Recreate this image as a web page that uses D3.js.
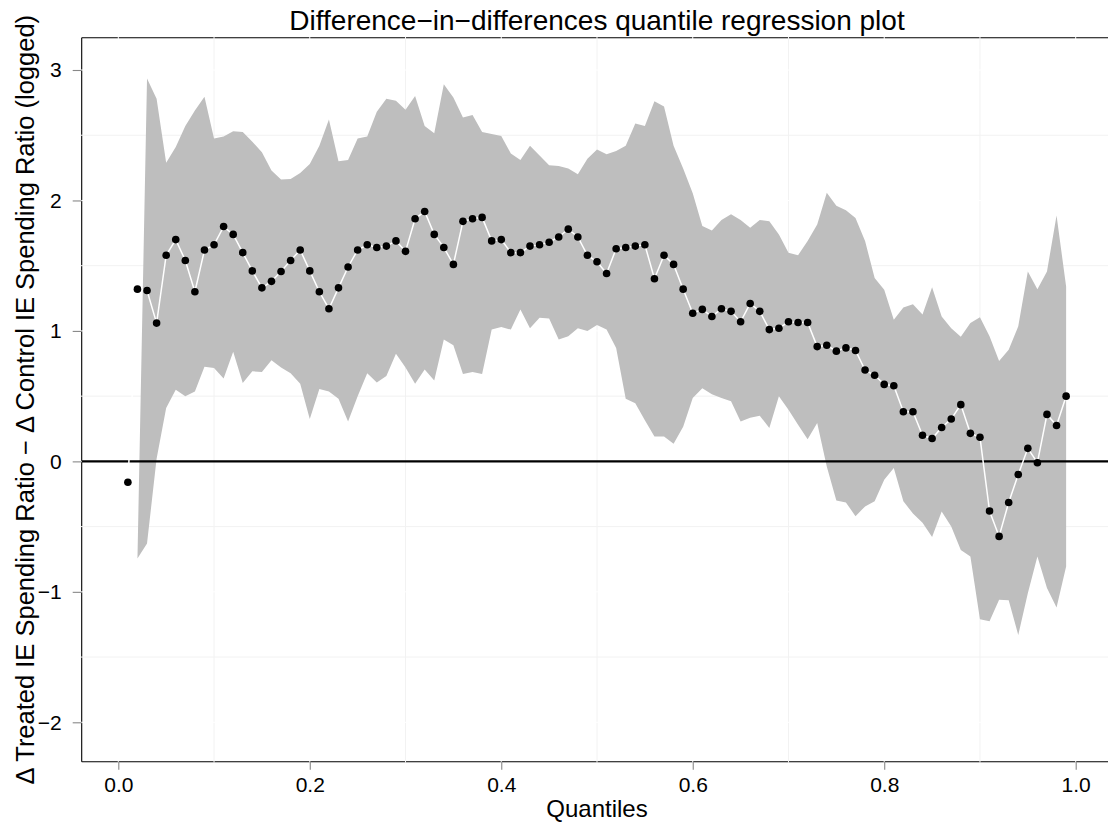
<!DOCTYPE html>
<html>
<head>
<meta charset="utf-8">
<script src="https://cdn.jsdelivr.net/npm/d3@7"></script>
<style>
  html, body { margin: 0; padding: 0; background: #fff; }
  svg { display: block; font-family: "Liberation Sans", Arial, Helvetica, sans-serif; }
</style>
</head>
<body>
<svg id="chart" width="1108" height="825"></svg>
<script>
// ---------------- data ----------------
const quantiles = [0.01,0.02,0.03,0.04,0.05,0.06,0.07,0.08,0.09,0.10,
  0.11,0.12,0.13,0.14,0.15,0.16,0.17,0.18,0.19,0.20,
  0.21,0.22,0.23,0.24,0.25,0.26,0.27,0.28,0.29,0.30,
  0.31,0.32,0.33,0.34,0.35,0.36,0.37,0.38,0.39,0.40,
  0.41,0.42,0.43,0.44,0.45,0.46,0.47,0.48,0.49,0.50,
  0.51,0.52,0.53,0.54,0.55,0.56,0.57,0.58,0.59,0.60,
  0.61,0.62,0.63,0.64,0.65,0.66,0.67,0.68,0.69,0.70,
  0.71,0.72,0.73,0.74,0.75,0.76,0.77,0.78,0.79,0.80,
  0.81,0.82,0.83,0.84,0.85,0.86,0.87,0.88,0.89,0.90,
  0.91,0.92,0.93,0.94,0.95,0.96,0.97,0.98,0.99];

const estimate = [-0.16,1.32,1.31,1.06,1.58,1.70,1.54,1.30,1.62,1.66,
  1.80,1.74,1.60,1.46,1.33,1.38,1.455,1.54,1.62,1.46,
  1.30,1.17,1.33,1.49,1.62,1.66,1.64,1.65,1.69,1.61,
  1.86,1.915,1.74,1.64,1.51,1.84,1.86,1.87,1.69,1.70,
  1.60,1.60,1.65,1.66,1.68,1.72,1.78,1.72,1.58,1.53,
  1.44,1.63,1.64,1.65,1.66,1.40,1.58,1.51,1.32,1.135,
  1.165,1.11,1.17,1.15,1.07,1.21,1.15,1.01,1.02,1.07,
  1.065,1.065,0.88,0.89,0.845,0.87,0.85,0.70,0.66,0.59,
  0.58,0.38,0.38,0.20,0.175,0.26,0.325,0.435,0.215,0.185,
  -0.38,-0.575,-0.315,-0.10,0.10,-0.01,0.36,0.275,0.50];

// confidence band, available from q = 0.02 onward (null at 0.01)
const upper = [null,-0.75,2.935,2.78,2.29,2.41,2.57,2.69,2.795,2.475,
  2.49,2.53,2.525,2.45,2.37,2.23,2.16,2.165,2.21,2.28,
  2.42,2.62,2.30,2.31,2.475,2.49,2.68,2.78,2.765,2.695,
  2.80,2.57,2.515,2.89,2.79,2.635,2.655,2.525,2.51,2.495,
  2.36,2.31,2.42,2.345,2.27,2.265,2.245,2.20,2.32,2.39,
  2.355,2.38,2.42,2.59,2.57,2.76,2.72,2.42,2.245,2.055,
  1.805,1.77,1.85,1.895,1.85,1.79,1.85,1.84,1.74,1.60,
  1.58,1.69,1.815,2.06,1.96,1.925,1.865,1.69,1.405,1.315,
  1.085,1.18,1.205,1.125,1.335,1.11,1.02,0.955,1.06,1.105,
  0.96,0.77,0.855,1.035,1.455,1.32,1.455,1.885,1.34];

const lower = [null,-0.745,-0.63,0.02,0.41,0.55,0.50,0.535,0.725,0.715,
  0.635,0.84,0.60,0.69,0.685,0.775,0.72,0.675,0.595,0.325,
  0.555,0.535,0.48,0.305,0.50,0.675,0.605,0.655,0.825,0.72,
  0.595,0.705,0.62,0.935,0.89,0.67,0.685,0.67,1.01,1.03,
  1.01,1.165,1.02,1.10,1.095,0.935,0.96,1.02,1.00,1.045,
  1.01,0.87,0.48,0.445,0.315,0.19,0.19,0.135,0.265,0.485,
  0.56,0.515,0.485,0.46,0.305,0.335,0.35,0.255,0.50,0.395,
  0.28,0.17,0.295,-0.04,-0.30,-0.315,-0.42,-0.345,-0.305,-0.14,
  -0.05,-0.305,-0.40,-0.47,-0.58,-0.385,-0.50,-0.68,-0.73,-1.21,
  -1.225,-1.06,-1.065,-1.33,-1.01,-0.73,-0.97,-1.12,-0.805];

const xTicks = [0.0, 0.2, 0.4, 0.6, 0.8, 1.0];
const xMinor = [0.1, 0.3, 0.5, 0.7, 0.9];
const yTicks = [-2, -1, 0, 1, 2, 3];
const yMinor = [-1.5, -0.5, 0.5, 1.5, 2.5];

const titleText = "Difference\u2212in\u2212differences quantile regression plot";
const xTitle = "Quantiles";
const yTitle = "\u0394 Treated IE Spending Ratio \u2212 \u0394 Control IE Spending Ratio (logged)";

// ---------------- layout ----------------
const W = 1108, H = 825;
const panel = { left: 81.7, top: 37.7, bottom: 761.7, right: 1113 };

const x = d3.scaleLinear().domain([0, 1]).range([118.3, 1075.7]);
const y = d3.scaleLinear().domain([-2, 3]).range([722.3, 70]);

const svg = d3.select("#chart");
svg.append("rect").attr("width", W).attr("height", H).attr("fill", "#fff");

svg.append("defs").append("clipPath").attr("id", "clip")
  .append("rect")
  .attr("x", panel.left).attr("y", panel.top)
  .attr("width", panel.right - panel.left).attr("height", panel.bottom - panel.top);

// panel borders (top, bottom, left)
const border = svg.append("g").attr("stroke", "#000").attr("stroke-width", 1.1);
border.append("line").attr("x1", panel.left).attr("x2", W).attr("y1", panel.top).attr("y2", panel.top);
border.append("line").attr("x1", panel.left).attr("x2", W).attr("y1", panel.bottom).attr("y2", panel.bottom);
border.append("line").attr("x1", panel.left).attr("x2", panel.left).attr("y1", panel.top).attr("y2", panel.bottom);

// gridlines (drawn over the border to create the small gaps)
const grid = svg.append("g");
grid.selectAll(".vmin").data(xMinor).join("line")
  .attr("x1", d => x(d)).attr("x2", d => x(d))
  .attr("y1", panel.top - 1).attr("y2", panel.bottom + 1)
  .attr("stroke", "#f2f2f2").attr("stroke-width", 1);
grid.selectAll(".vmaj").data(xTicks).join("line")
  .attr("x1", d => x(d)).attr("x2", d => x(d))
  .attr("y1", panel.top - 1).attr("y2", panel.bottom + 1)
  .attr("stroke", "#ffffff").attr("stroke-width", 1);
grid.selectAll(".hmin").data(yMinor).join("line")
  .attr("x1", panel.left - 1).attr("x2", W)
  .attr("y1", d => y(d)).attr("y2", d => y(d))
  .attr("stroke", "#f2f2f2").attr("stroke-width", 1);
grid.selectAll(".hmaj").data(yTicks).join("line")
  .attr("x1", panel.left - 1).attr("x2", W)
  .attr("y1", d => y(d)).attr("y2", d => y(d))
  .attr("stroke", "#ffffff").attr("stroke-width", 1);

// data layer
const rows = quantiles.map((q, i) => ({ q, est: estimate[i], lo: lower[i], hi: upper[i] }));
const plot = svg.append("g").attr("clip-path", "url(#clip)");

const area = d3.area()
  .defined(d => d.lo !== null && d.hi !== null)
  .x(d => x(d.q)).y0(d => y(d.lo)).y1(d => y(d.hi));
plot.append("path").datum(rows).attr("d", area).attr("fill", "#bebebe");

plot.append("line")
  .attr("x1", panel.left).attr("x2", W)
  .attr("y1", y(0)).attr("y2", y(0))
  .attr("stroke", "#000").attr("stroke-width", 2.2);

const line = d3.line().x(d => x(d.q)).y(d => y(d.est));
plot.append("path").datum(rows).attr("d", line)
  .attr("fill", "none").attr("stroke", "#fff").attr("stroke-width", 1.5);

plot.selectAll("circle").data(rows).join("circle")
  .attr("cx", d => x(d.q)).attr("cy", d => y(d.est)).attr("r", 3.8)
  .attr("fill", "#000");

// axes
const xAxis = svg.append("g").attr("transform", `translate(0,${panel.bottom})`)
  .call(d3.axisBottom(x).tickValues(xTicks).tickFormat(d3.format(".1f")).tickSizeOuter(0).tickSize(8).tickPadding(7));
xAxis.select(".domain").remove();
xAxis.selectAll(".tick line").attr("stroke", "#888").attr("stroke-width", 1.1);
xAxis.selectAll(".tick text").attr("font-size", 21).attr("fill", "#000")
  .attr("font-family", "'Liberation Sans', Arial, sans-serif");

const yAxis = svg.append("g").attr("transform", `translate(${panel.left},0)`)
  .call(d3.axisLeft(y).tickValues(yTicks).tickFormat(d => d < 0 ? "\u2212" + Math.abs(d) : String(d)).tickSizeOuter(0).tickSize(9).tickPadding(11));
yAxis.select(".domain").remove();
yAxis.selectAll(".tick line").attr("stroke", "#888").attr("stroke-width", 1.1);
yAxis.selectAll(".tick text").attr("font-size", 21).attr("fill", "#000")
  .attr("font-family", "'Liberation Sans', Arial, sans-serif");

// titles
svg.append("text").attr("x", 597).attr("y", 30).attr("text-anchor", "middle")
  .attr("font-size", 28).attr("fill", "#000").text(titleText);
svg.append("text").attr("x", 597).attr("y", 817).attr("text-anchor", "middle")
  .attr("font-size", 24).attr("fill", "#000").text(xTitle);
svg.append("text").attr("transform", `translate(34,${(panel.top + panel.bottom) / 2}) rotate(-90)`)
  .attr("text-anchor", "middle").attr("font-size", 25.5).attr("fill", "#000").text(yTitle);
</script>
</body>
</html>
